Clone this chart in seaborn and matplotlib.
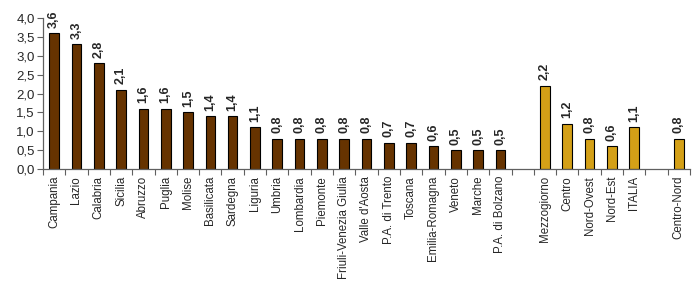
import matplotlib
matplotlib.use("Agg")
import matplotlib.pyplot as plt
import seaborn as sns
import pandas as pd
import numpy as np
from matplotlib.ticker import FixedLocator, NullFormatter

regions = ["Campania", "Lazio", "Calabria", "Sicilia", "Abruzzo", "Puglia", "Molise",
           "Basilicata", "Sardegna", "Liguria", "Umbria", "Lombardia", "Piemonte",
           "Friuli-Venezia Giulia", "Valle d'Aosta", "P.A. di Trento", "Toscana",
           "Emilia-Romagna", "Veneto", "Marche", "P.A. di Bolzano"]
region_values = [3.6, 3.3, 2.8, 2.1, 1.6, 1.6, 1.5, 1.4, 1.4, 1.1, 0.8, 0.8, 0.8,
                 0.8, 0.8, 0.7, 0.7, 0.6, 0.5, 0.5, 0.5]
areas = ["Mezzogiorno", "Centro", "Nord-Ovest", "Nord-Est", "ITALIA"]
area_values = [2.2, 1.2, 0.8, 0.6, 1.1]
extra = ["Centro-Nord"]
extra_values = [0.8]

order = regions + [" "] + areas + ["  "] + extra
df = pd.DataFrame({
    "cat": regions + areas + extra,
    "val": region_values + area_values + extra_values,
    "grp": ["reg"] * len(regions) + ["area"] * (len(areas) + len(extra)),
})

sns.set_style("white")
plt.rcParams["font.family"] = ["Liberation Sans", "DejaVu Sans"]

fig = plt.figure(figsize=(7.0, 2.84), dpi=100)
ax = fig.add_axes([43 / 700, 1 - 169 / 284, 647 / 700, 151 / 284])

sns.barplot(data=df, x="cat", y="val", hue="grp", order=order,
            palette={"reg": "#663300", "area": "#D4A017"}, dodge=False, saturation=1,
            width=0.43, edgecolor="black", linewidth=0.8, legend=False, ax=ax)

for cont in ax.containers:
    labels = [("%.1f" % v).replace(".", ",") if not np.isnan(v) else "" for v in cont.datavalues]
    ax.bar_label(cont, labels=labels, rotation=90, padding=4, fontsize=9, fontweight="bold")

ax.set_ylim(0, 4.0)
ax.set_xlim(-0.5, len(order) - 0.5)
ax.set_yticks(np.arange(0, 4.01, 0.5))
ax.set_yticklabels([("%.1f" % v).replace(".", ",") for v in np.arange(0, 4.01, 0.5)], fontsize=9.5)
ax.set_xticks(range(len(order)))
ax.set_xticklabels(order, rotation=90, fontsize=8.3)
ax.tick_params(axis="x", which="major", length=0, pad=5)
ax.xaxis.set_minor_locator(FixedLocator(np.arange(-0.5, len(order), 1.0)))
ax.xaxis.set_minor_formatter(NullFormatter())
ax.tick_params(axis="x", which="minor", length=4, width=0.8, color="#606060", direction="out", bottom=True)
ax.tick_params(axis="y", length=4, width=0.8, color="#606060", direction="out", left=True, pad=2)
ax.set_xlabel("")
ax.set_ylabel("")
for s in ["top", "right"]:
    ax.spines[s].set_visible(False)
for s in ["left", "bottom"]:
    ax.spines[s].set_color("#606060")
    ax.spines[s].set_linewidth(0.9)

fig.savefig("out.png", dpi=100)
